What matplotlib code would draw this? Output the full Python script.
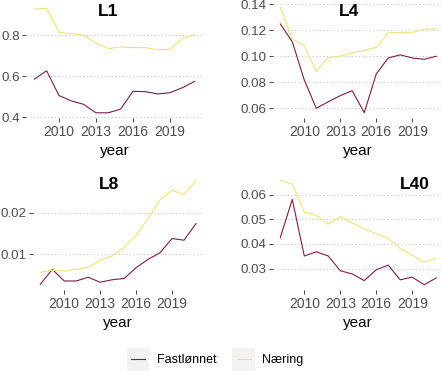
import numpy as np
import matplotlib
matplotlib.use('Agg')
import matplotlib.pyplot as plt
from matplotlib.lines import Line2D
from matplotlib.patches import Rectangle

plt.rcParams['font.family'] = ['Liberation Sans', 'DejaVu Sans']

years = list(range(2008, 2022))

# L1
l1_fast = [0.586, 0.627, 0.506, 0.480, 0.463, 0.422, 0.422, 0.440, 0.527, 0.525, 0.514, 0.520, 0.544, 0.575]
l1_naer = [0.927, 0.932, 0.815, 0.808, 0.800, 0.762, 0.735, 0.743, 0.740, 0.740, 0.730, 0.730, 0.784, 0.803]
# L4
l4_fast = [0.1247, 0.111, 0.0817, 0.060, 0.065, 0.0697, 0.0735, 0.0566, 0.0863, 0.0986, 0.101, 0.0986, 0.0976, 0.0999]
l4_naer = [0.1375, 0.113, 0.108, 0.0884, 0.099, 0.100, 0.1026, 0.1045, 0.1068, 0.118, 0.118, 0.118, 0.1208, 0.121]
# L8
l8_fast = [0.0028, 0.0064, 0.0036, 0.0036, 0.0045, 0.0033, 0.0039, 0.0042, 0.0068, 0.0088, 0.0104, 0.0138, 0.0134, 0.0174]
l8_naer = [0.0057, 0.0062, 0.0060, 0.0064, 0.0069, 0.0086, 0.0096, 0.0117, 0.0145, 0.0186, 0.0232, 0.0254, 0.0244, 0.0277]
# L40
l40_fast = [0.0426, 0.0581, 0.0351, 0.0368, 0.0351, 0.0291, 0.0278, 0.0251, 0.0295, 0.0314, 0.0254, 0.0265, 0.0234, 0.0262]
l40_naer = [0.0659, 0.0643, 0.0530, 0.0516, 0.0480, 0.0511, 0.0485, 0.0462, 0.0442, 0.0423, 0.0381, 0.0354, 0.0326, 0.0341]

panels = ['L1', 'L4', 'L8', 'L40']
fast = [l1_fast, l4_fast, l8_fast, l40_fast]
naer = [l1_naer, l4_naer, l8_naer, l40_naer]
yticks = [[0.4, 0.6, 0.8], [0.06, 0.08, 0.10, 0.12, 0.14], [0.01, 0.02], [0.03, 0.04, 0.05, 0.06]]
yfmt = ['%.1f', '%.2f', '%.2f', '%.2f']
xticks = [2010, 2013, 2016, 2019]

col_fast = '#7b1e4a'
col_naer = '#f0e27c'

W, H = 441, 371
# panel boxes in pixels: left, top, right, bottom
boxes = [(26.3, 3, 202.6, 118), (272.5, 2, 444, 118),
         (32.5, 175.5, 203.8, 289.5), (272.5, 175, 444, 290)]
title_x = [108, 349.5, 109.5, 414.6]
title_y = [12, 12, 185, 185]

fig = plt.figure(figsize=(W / 100, H / 100), dpi=100)

for i, name in enumerate(panels):
    l, t, r, b = boxes[i]
    ax = fig.add_axes([l / W, 1 - b / H, (r - l) / W, (b - t) / H])
    ax.plot(years, fast[i], color=col_fast, lw=0.8)
    ax.plot(years, naer[i], color=col_naer, lw=0.8)
    vals = fast[i] + naer[i]
    lo, hi = min(vals), max(vals)
    pad = (hi - lo) * 0.05
    ax.set_ylim(lo - pad, hi + pad)
    ax.set_xlim(2007.35, 2021.65)
    ax.set_xticks(xticks)
    ax.set_yticks(yticks[i])
    ax.set_yticklabels([yfmt[i] % v for v in yticks[i]])
    ax.yaxis.grid(True, color='#c4c4c4', linestyle=(0, (1, 2.2)), lw=0.8)
    ax.set_axisbelow(True)
    for s in ax.spines.values():
        s.set_visible(False)
    ax.tick_params(length=3, width=0.7, color='#444444', labelcolor='#4d4d4d',
                   labelsize=10, pad=2.2)
    ax.tick_params(axis='y', length=2.6, labelsize=9.6, pad=1.6)
    ax.set_xlabel('year', fontsize=11, color='black', labelpad=3.5)
    fig.text(title_x[i] / W, 1 - title_y[i] / H, name, fontsize=12.5,
             fontweight='bold', ha='center', va='center')

# legend at bottom
legend_items = [('Fastlønnet', col_fast, 126.7), ('Næring', col_naer, 232.3)]
for label, c, kx in legend_items:
    fig.patches.append(Rectangle((kx / W, 0), 22.7 / W, (H - 347.7) / H,
                                 transform=fig.transFigure, facecolor='#f2f2f2',
                                 edgecolor='none'))
    fig.lines.append(Line2D([(kx + 4.6) / W, (kx + 18.6) / W], [1 - 359 / H, 1 - 359 / H],
                            transform=fig.transFigure, color=c, lw=0.8))
    fig.text((kx + 30) / W, 1 - 360 / H, label, fontsize=9, va='center', ha='left')

fig.savefig('out.png', dpi=100)
